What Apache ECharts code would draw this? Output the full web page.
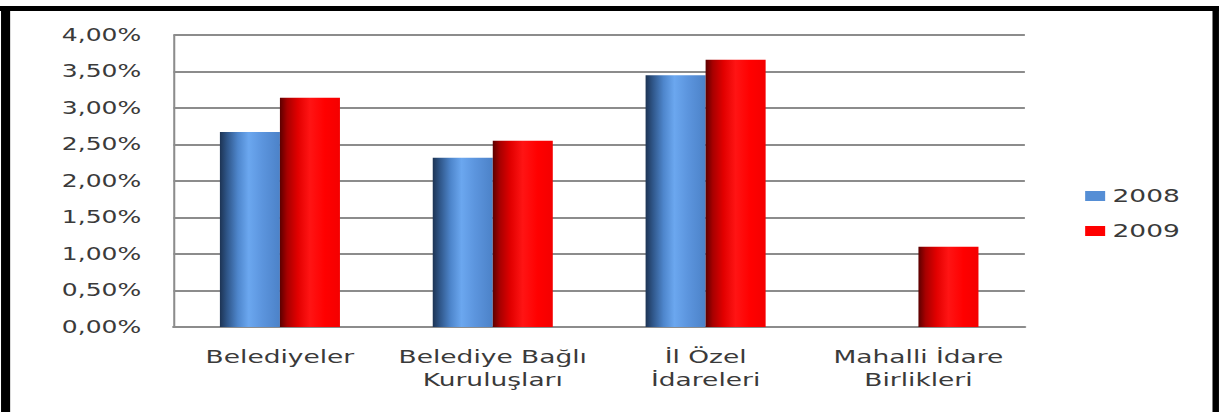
<!DOCTYPE html>
<html>
<head>
<meta charset="utf-8">
<script src="https://cdn.jsdelivr.net/npm/echarts/dist/echarts.min.js"></script>
<style>
html, body { margin: 0; padding: 0; background: #fff; overflow: hidden; width: 1219px; height: 412px; }
#chart { position: absolute; left: 0; top: 0; width: 829px; height: 412px; transform: scaleX(1.4704); transform-origin: 0 0; }
</style>
</head>
<body>
<div id="chart"></div>
<script>
// Data (percent values)
const categories = ['Belediyeler', 'Belediye Bağlı\nKuruluşları', 'İl Özel\nİdareleri', 'Mahalli İdare\nBirlikleri'];
const seriesNames = ['2008', '2009'];
const values2008 = [2.67, 2.32, 3.45, null];
const values2009 = [3.14, 2.55, 3.66, 1.10];
const yTicks = [0, 0.5, 1, 1.5, 2, 2.5, 3, 3.5, 4];

const FONT = 'DejaVu Sans';
const W = 829, H = 412;
const TEXT = '#3a3a3a';

const blueGrad = new echarts.graphic.LinearGradient(0, 0, 1, 0, [
  { offset: 0, color: '#1d3454' },
  { offset: 0.12, color: '#2f5689' },
  { offset: 0.3, color: '#4e86cc' },
  { offset: 0.48, color: '#6ba7ef' },
  { offset: 0.7, color: '#5c95de' },
  { offset: 1, color: '#4c82c8' }
]);
const redGrad = new echarts.graphic.LinearGradient(0, 0, 1, 0, [
  { offset: 0, color: '#5c0000' },
  { offset: 0.12, color: '#a80000' },
  { offset: 0.3, color: '#e20000' },
  { offset: 0.5, color: '#ff1414' },
  { offset: 0.75, color: '#ff0000' },
  { offset: 1, color: '#f40000' }
]);

const chart = echarts.init(document.getElementById('chart'), null, { renderer: 'svg', width: W, height: H });
chart.setOption({
  animation: false,
  backgroundColor: '#ffffff',
  textStyle: { fontFamily: FONT },
  grid: { left: 118, right: 132, top: 35, bottom: 85, containLabel: false },
  legend: {
    orient: 'vertical',
    left: 733,
    top: 182,
    icon: 'rect',
    itemWidth: 13.6,
    itemHeight: 10,
    itemGap: 17,
    textStyle: { fontFamily: FONT, fontSize: 18, color: TEXT, lineHeight: 18, padding: [0, 0, 0, 0] },
    data: [
      { name: seriesNames[0], itemStyle: { color: '#558ed5' } },
      { name: seriesNames[1], itemStyle: { color: '#ff0000' } }
    ]
  },
  xAxis: {
    type: 'category',
    data: categories,
    axisLine: { show: true, lineStyle: { color: '#8c8c8c', width: 2 } },
    axisTick: { show: false },
    axisLabel: { fontFamily: FONT, fontSize: 18, color: TEXT, lineHeight: 23, margin: 18, interval: 0 }
  },
  yAxis: {
    type: 'value',
    min: yTicks[0],
    max: yTicks[yTicks.length - 1],
    interval: yTicks[1] - yTicks[0],
    axisLine: { show: true, lineStyle: { color: '#8c8c8c', width: 1.4 } },
    axisTick: { show: false },
    splitLine: { show: true, lineStyle: { color: '#8c8c8c', width: 2 } },
    axisLabel: {
      fontFamily: FONT, fontSize: 17, color: TEXT, margin: 22,
      formatter: v => v.toFixed(2).replace('.', ',') + '%'
    }
  },
  series: [
    { name: seriesNames[0], type: 'bar', data: values2008, barWidth: '28.2%', barGap: '0%', itemStyle: { color: blueGrad } },
    { name: seriesNames[1], type: 'bar', data: values2009, barWidth: '28.2%', barGap: '0%', itemStyle: { color: redGrad } }
  ],
  graphic: [
    { type: 'rect', shape: { x: 0, y: 6, width: W, height: 5 }, style: { fill: '#000' }, z: 100 },
    { type: 'rect', shape: { x: 0.7, y: 6, width: 6.2, height: H }, style: { fill: '#000' }, z: 100 },
    { type: 'rect', shape: { x: 824.6, y: 6, width: 4.4, height: H }, style: { fill: '#000' }, z: 100 }
  ]
});
</script>
</body>
</html>
